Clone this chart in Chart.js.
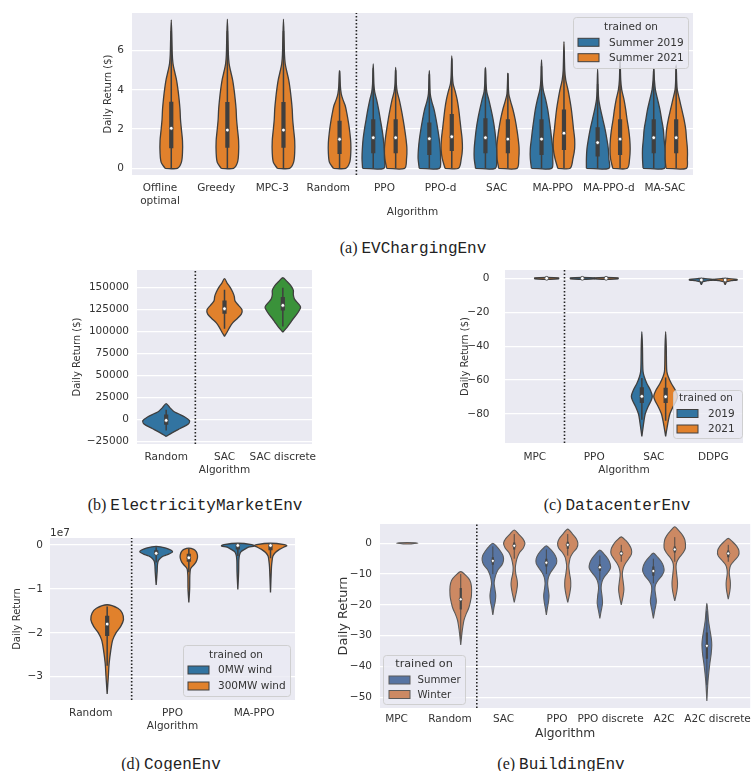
<!DOCTYPE html>
<html><head><meta charset="utf-8">
<script src="https://cdn.jsdelivr.net/npm/chart.js@4.4.1/dist/chart.umd.min.js"></script>
<style>
html,body{margin:0;padding:0;background:#fff;}
body{width:755px;height:771px;position:relative;overflow:hidden;font-family:'DejaVu Sans',sans-serif;}
canvas{position:absolute;}
.cap{position:absolute;transform:translate(-50%,-50%);white-space:nowrap;font-size:16px;color:#222;line-height:18px;}
.cap .s{font-family:'Liberation Serif','DejaVu Serif',serif;}
.cap .m{font-family:'Liberation Mono','DejaVu Sans Mono',monospace;}
</style></head>
<body>
<div class="cap" style="left:413px;top:248px"><span class="s">(a) </span><span class="m">EVChargingEnv</span></div>
<div class="cap" style="left:195px;top:505px"><span class="s">(b) </span><span class="m">ElectricityMarketEnv</span></div>
<div class="cap" style="left:617px;top:505px"><span class="s">(c) </span><span class="m">DatacenterEnv</span></div>
<div class="cap" style="left:171px;top:764px"><span class="s">(d) </span><span class="m">CogenEnv</span></div>
<div class="cap" style="left:561px;top:764px"><span class="s">(e) </span><span class="m">BuildingEnv</span></div>
<script>
// ===================== DATA =====================
// Each violin: shape = [[value, relative half-width], ...] ascending by value,
// box = [whisker low, q1, median, q3, whisker high]

// (a) EVChargingEnv
const evCategories = ['Offline\noptimal','Greedy','MPC-3','Random','PPO','PPO-d','SAC','MA-PPO','MA-PPO-d','MA-SAC'];
const evTicks = [0,2,4,6];
const evSummer2019 = [null,null,null,null,
  {shape:[[0,0.95],[0.5,1.0],[1.0,0.97],[1.5,0.9],[2.0,0.78],[2.5,0.63],[3.0,0.48],[3.5,0.3],[3.9,0.13],[4.3,0.06],[5.32,0]], box:[0,0.77,1.56,2.5,5.1]},
  {shape:[[0,0.9],[0.5,1.0],[1.0,0.97],[1.5,0.88],[2.0,0.75],[2.5,0.6],[3.0,0.42],[3.4,0.22],[3.8,0.08],[4.98,0]], box:[0,0.68,1.51,2.33,4.8]},
  {shape:[[0,0.88],[0.5,1.0],[1.0,1.0],[1.5,0.92],[2.0,0.82],[2.5,0.68],[3.0,0.5],[3.5,0.3],[3.9,0.12],[4.3,0.06],[5.15,0]], box:[0,0.77,1.56,2.55,5.1]},
  {shape:[[0,0.9],[0.5,1.0],[1.0,1.0],[1.5,0.9],[2.0,0.8],[2.5,0.68],[3.0,0.55],[3.5,0.37],[4.0,0.15],[4.5,0.06],[5.53,0]], box:[0,0.68,1.49,2.5,5.2]},
  {shape:[[0,1.0],[0.5,1.0],[1.0,0.95],[1.5,0.82],[2.0,0.66],[2.5,0.46],[3.0,0.26],[3.5,0.1],[4.0,0.05],[5.05,0]], box:[0,0.6,1.31,2.09,4.3]},
  {shape:[[0,0.95],[0.5,1.0],[1.0,1.0],[1.5,0.92],[2.0,0.85],[2.5,0.7],[3.0,0.55],[3.5,0.35],[4.0,0.15],[4.5,0.06],[5.1,0]], box:[0,0.77,1.56,2.5,5.1]}
];
const evSummer2021 = [
  {shape:[[0,0.55],[0.3,0.9],[0.8,1.0],[1.4,1.0],[2.0,0.9],[2.5,0.82],[3.0,0.78],[3.5,0.7],[4.0,0.6],[4.5,0.47],[5.0,0.27],[5.35,0.15],[5.8,0.09],[6.5,0.06],[7.57,0]], box:[0,1.02,2.04,3.4,7.0]},
  {shape:[[0,0.55],[0.3,0.9],[0.8,1.0],[1.4,1.0],[2.0,0.9],[2.5,0.82],[3.0,0.78],[3.5,0.7],[4.0,0.6],[4.5,0.47],[5.0,0.27],[5.35,0.15],[5.8,0.09],[6.5,0.06],[7.6,0]], box:[0,1.05,1.95,3.38,7.0]},
  {shape:[[0,0.55],[0.3,0.9],[0.8,1.0],[1.4,1.0],[2.0,0.9],[2.5,0.82],[3.0,0.78],[3.5,0.7],[4.0,0.6],[4.5,0.47],[5.0,0.27],[5.35,0.15],[5.8,0.09],[6.5,0.06],[7.6,0]], box:[0,1.05,1.95,3.38,7.0]},
  {shape:[[0,0.55],[0.3,0.9],[0.8,1.0],[1.3,1.0],[1.8,0.92],[2.3,0.8],[2.8,0.65],[3.2,0.5],[3.5,0.3],[3.8,0.15],[4.2,0.07],[4.98,0]], box:[0,0.73,1.48,2.43,4.98]},
  {shape:[[0,0.8],[0.5,0.97],[1.0,1.0],[1.5,0.92],[2.0,0.8],[2.5,0.66],[3.0,0.5],[3.5,0.32],[3.9,0.14],[4.3,0.06],[5.15,0]], box:[0,0.77,1.56,2.5,5.0]},
  {shape:[[0,0.6],[0.5,0.85],[1.0,0.95],[1.5,0.92],[2.0,0.82],[2.5,0.72],[3.0,0.62],[3.5,0.48],[4.0,0.27],[4.3,0.12],[4.7,0.06],[5.73,0]], box:[0,0.88,1.61,2.77,5.6]},
  {shape:[[0,0.82],[0.5,0.97],[1.0,1.0],[1.5,0.92],[2.0,0.8],[2.5,0.65],[3.0,0.45],[3.4,0.25],[3.8,0.08],[4.85,0]], box:[0,0.77,1.49,2.5,4.85]},
  {shape:[[0,0.55],[0.5,0.8],[1.0,0.95],[1.5,0.95],[2.0,0.85],[2.5,0.76],[3.0,0.66],[3.5,0.52],[4.0,0.36],[4.5,0.16],[5.0,0.07],[6.46,0]], box:[0,0.93,1.79,3.0,6.0]},
  {shape:[[0,0.65],[0.5,0.85],[1.0,0.9],[1.5,0.86],[2.0,0.76],[2.5,0.62],[3.0,0.5],[3.5,0.35],[4.0,0.15],[4.5,0.06],[5.6,0]], box:[0,0.68,1.49,2.5,5.2]},
  {shape:[[0,0.9],[0.5,1.0],[1.0,1.0],[1.5,0.92],[2.0,0.85],[2.5,0.7],[3.0,0.5],[3.5,0.3],[4.0,0.1],[4.4,0.05],[5.27,0]], box:[0,0.77,1.56,2.5,5.2]}
];

// (b) ElectricityMarketEnv
const emCategories = ['Random','SAC','SAC discrete'];
const emTicks = [-25000,0,25000,50000,75000,100000,125000,150000];
const emReturns = [
  {shape:[[-19000,0],[-15000,0.25],[-10000,0.6],[-5000,0.95],[-1000,1.0],[3000,0.8],[7000,0.5],[10000,0.3],[14000,0.15],[18200,0]], box:[-12200,-5700,-800,6000,11400]},
  {shape:[[94700,0],[100000,0.12],[105000,0.22],[110000,0.35],[115000,0.55],[120000,0.72],[125000,0.75],[130000,0.6],[135000,0.45],[140000,0.42],[145000,0.35],[150000,0.25],[155000,0.12],[160200,0]], box:[103400,120400,126100,135500,147700]},
  {shape:[[99500,0],[105000,0.18],[110000,0.32],[115000,0.45],[120000,0.6],[125000,0.72],[128000,0.76],[132000,0.66],[137000,0.5],[142000,0.45],[147000,0.45],[152000,0.35],[157000,0.18],[161300,0]], box:[106000,124200,129900,139300,150000]}
];

// (c) DatacenterEnv
const dcCategories = ['MPC','PPO','SAC','DDPG'];
const dcTicks = [-80,-60,-40,-20,0];
const dc2019 = [null,
  {shape:[[-0.6,0],[-0.3,1],[0.3,1],[0.6,0]], box:[0,0,0,0,0]},
  {shape:[[-93.2,0],[-88,0.1],[-84,0.18],[-80,0.28],[-76,0.5],[-72,0.78],[-69.5,0.88],[-66,0.72],[-62,0.42],[-58,0.2],[-55,0.1],[-50,0.07],[-40,0.05],[-31.4,0]], box:[-83.4,-73.5,-69.6,-64.3,-58.8]},
  {shape:[[-3.8,0],[-3,0.05],[-2,0.12],[-1.4,0.5],[-1.0,1.0],[-0.6,1.0],[-0.2,0.3],[0,0]], box:[-2,-1.2,-1.0,-0.7,-0.2]}
];
const dc2021 = [
  {shape:[[-0.6,0],[-0.3,1],[0.3,1],[0.6,0]], box:[0,0,0,0,0]},
  {shape:[[-0.6,0],[-0.3,1],[0.3,1],[0.6,0]], box:[0,0,0,0,0]},
  {shape:[[-93.2,0],[-88,0.12],[-84,0.22],[-80,0.35],[-76,0.6],[-72,0.9],[-69.5,1.0],[-66,0.82],[-62,0.48],[-58,0.22],[-55,0.1],[-50,0.07],[-40,0.05],[-31.4,0]], box:[-84,-73.5,-69.8,-64.5,-58.5]},
  {shape:[[-3.8,0],[-3,0.05],[-2,0.12],[-1.4,0.5],[-1.0,1.0],[-0.6,1.0],[-0.2,0.3],[0,0]], box:[-2,-1.2,-1.0,-0.7,-0.2]}
];

// (d) CogenEnv
const cgCategories = ['Random','PPO','MA-PPO'];
const cgTicks = [-3e7,-2e7,-1e7,0];
const cg0MW = [null,
  {shape:[[-0.91e7,0],[-0.6e7,0.06],[-0.45e7,0.08],[-0.36e7,0.13],[-0.3e7,0.25],[-0.25e7,0.45],[-0.2e7,0.8],[-0.16e7,1.0],[-0.12e7,0.92],[-0.07e7,0.6],[-0.03e7,0]], box:[-0.4e7,-0.23e7,-0.19e7,-0.12e7,-0.05e7]},
  {shape:[[-1.01e7,0],[-0.6e7,0.05],[-0.35e7,0.06],[-0.23e7,0.1],[-0.15e7,0.2],[-0.1e7,0.4],[-0.05e7,0.65],[-0.02e7,1.0],[0.01e7,0.85],[0.04e7,0]], box:[-0.25e7,-0.1e7,-0.01e7,0,0.03e7]}
];
const cg300MW = [
  {shape:[[-3.39e7,0],[-3.0e7,0.07],[-2.7e7,0.12],[-2.4e7,0.22],[-2.16e7,0.34],[-2.0e7,0.54],[-1.86e7,0.82],[-1.7e7,1.0],[-1.55e7,0.92],[-1.44e7,0.66],[-1.36e7,0]], box:[-2.75e7,-2.07e7,-1.8e7,-1.61e7,-1.4e7]},
  {shape:[[-1.31e7,0],[-1.0e7,0.05],[-0.7e7,0.06],[-0.55e7,0.1],[-0.48e7,0.23],[-0.42e7,0.38],[-0.35e7,0.48],[-0.28e7,0.53],[-0.22e7,0.52],[-0.15e7,0.45],[-0.1e7,0.3],[-0.07e7,0]], box:[-0.62e7,-0.38e7,-0.29e7,-0.2e7,-0.08e7]},
  {shape:[[-1.08e7,0],[-0.5e7,0.06],[-0.35e7,0.1],[-0.25e7,0.15],[-0.17e7,0.3],[-0.1e7,0.55],[-0.05e7,0.8],[-0.02e7,1.0],[0.01e7,0.85],[0.04e7,0]], box:[-0.3e7,-0.12e7,-0.01e7,0,0.03e7]}
];

// (e) BuildingEnv
const bdCategories = ['MPC','Random','SAC','PPO','PPO discrete','A2C','A2C discrete'];
const bdTicks = [-50,-40,-30,-20,-10,0];
const bdSummer = [null,null,
  {shape:[[-23.3,0],[-21,0.1],[-19,0.22],[-17,0.27],[-15,0.2],[-13,0.12],[-11.5,0.18],[-10,0.3],[-8.5,0.5],[-7,0.85],[-5.5,1.0],[-4,0.95],[-2.5,0.7],[-1,0.35],[0,0]], box:[-10,-7,-5.7,-4.5,-1]},
  {shape:[[-23.3,0],[-21,0.1],[-19,0.2],[-17,0.25],[-15,0.18],[-13,0.12],[-11,0.2],[-9.5,0.4],[-8,0.7],[-6.5,0.95],[-5,0.95],[-3.5,0.75],[-2,0.4],[-0.8,0]], box:[-10,-7.5,-6.3,-5,-2]},
  {shape:[[-24.4,0],[-22,0.12],[-19.5,0.25],[-17,0.2],[-14.5,0.12],[-12.5,0.2],[-11,0.4],[-9.5,0.75],[-8,1.0],[-6.5,0.95],[-5,0.75],[-3.5,0.4],[-2.2,0]], box:[-12,-9,-7.8,-6.8,-4]},
  {shape:[[-24.4,0],[-21.5,0.15],[-19,0.28],[-17,0.22],[-15,0.15],[-13.5,0.2],[-12,0.45],[-10.5,0.8],[-9,1.0],[-7.5,0.95],[-6,0.75],[-4.5,0.4],[-3.2,0]], box:[-13,-10.5,-9,-7.5,-5]},
  {shape:[[-51.2,0],[-48,0.05],[-45,0.1],[-42,0.18],[-39,0.28],[-36,0.4],[-33,0.46],[-31,0.42],[-28,0.28],[-25,0.15],[-22,0.08],[-19.5,0]], box:[-46,-37.5,-33.3,-29,-22]}
];
const bdWinter = [
  {shape:[[-0.25,0],[0,1],[0.25,0]], box:null},
  {shape:[[-33,0],[-31,0.06],[-29,0.12],[-27,0.2],[-25,0.3],[-23,0.5],[-21,0.75],[-19,0.9],[-17,1.0],[-14,1.0],[-12,0.85],[-10.5,0.5],[-9.2,0]], box:[-31,-21.5,-18.2,-14.5,-10]},
  {shape:[[-19.2,0],[-17.5,0.1],[-15.5,0.22],[-13.5,0.3],[-12,0.27],[-10,0.15],[-8,0.1],[-6,0.18],[-4.5,0.3],[-3,0.5],[-1.5,0.85],[0,1.0],[1.5,0.8],[3,0.4],[4.3,0]], box:[-5,-2,-0.8,0.3,3]},
  {shape:[[-19.2,0],[-18,0.08],[-16,0.2],[-14,0.28],[-12,0.27],[-10,0.18],[-7.5,0.1],[-6,0.15],[-4.5,0.25],[-3,0.5],[-1.5,0.85],[0,0.95],[1.5,0.8],[3,0.45],[4.6,0]], box:[-4,-1.8,-0.5,0.5,3]},
  {shape:[[-20,0],[-17.5,0.15],[-15,0.25],[-12.5,0.18],[-10,0.1],[-8,0.2],[-6.5,0.4],[-5,0.7],[-3.5,0.95],[-2,0.95],[-0.5,0.75],[1,0.4],[2.1,0]], box:[-6,-4,-3.3,-2.5,-0.5]},
  {shape:[[-18.7,0],[-15.5,0.2],[-13,0.26],[-10,0.18],[-7.5,0.12],[-6,0.2],[-4.5,0.45],[-3,0.8],[-1.5,1.0],[1,0.95],[2.5,0.75],[4,0.4],[5.4,0]], box:[-6,-3,-2,-1,2]},
  {shape:[[-18.1,0],[-15.5,0.15],[-13.5,0.2],[-12,0.18],[-10,0.1],[-8.5,0.12],[-7,0.25],[-5.5,0.6],[-4,0.95],[-2.5,1.0],[-1,0.8],[0.5,0.4],[1.6,0]], box:[-6,-4.5,-3.3,-2.3,-0.5]}
];

// ===================== RENDERING =====================
Chart.defaults.font.family = "'DejaVu Sans', sans-serif";
Chart.defaults.color = '#333';

const C = {blue:'#3274a1', orange:'#e1812c', green:'#3a923a', dBlue:'#5875a3', dOrange:'#cc8963'};
const minus = v => (v < 0 ? '\u2212' + Math.abs(v) : String(v));

function roundRect(ctx, x, y, w, h, r) {
  ctx.beginPath();
  ctx.moveTo(x + r, y);
  ctx.arcTo(x + w, y, x + w, y + h, r);
  ctx.arcTo(x + w, y + h, x, y + h, r);
  ctx.arcTo(x, y + h, x, y, r);
  ctx.arcTo(x, y, x + w, y, r);
  ctx.closePath();
}

function overlay(P) {
  return {
    id: 'overlay',
    beforeDraw(chart) {
      const ca = chart.chartArea, ctx = chart.ctx;
      ctx.save(); ctx.fillStyle = '#eaeaf2';
      ctx.fillRect(ca.left, ca.top, ca.right - ca.left, ca.bottom - ca.top);
      ctx.restore();
    },
    afterDraw(chart) {
      const ctx = chart.ctx, ox = P.canvas.l, oy = P.canvas.t;
      if (P.offsetText) {
        ctx.save(); ctx.fillStyle = '#333'; ctx.font = P.tickSize + "px 'DejaVu Sans'";
        ctx.textAlign = 'left'; ctx.textBaseline = 'alphabetic';
        ctx.fillText(P.offsetText.text, P.offsetText.x - ox, P.offsetText.y - oy);
        ctx.restore();
      }
      const L = P.legend;
      if (!L) return;
      ctx.save();
      roundRect(ctx, L.x - ox + 0.5, L.y - oy + 0.5, L.w, L.h, 3);
      ctx.fillStyle = 'rgba(234,234,242,0.8)'; ctx.fill();
      ctx.strokeStyle = 'rgba(204,204,204,0.9)'; ctx.lineWidth = 1; ctx.stroke();
      ctx.fillStyle = '#333'; ctx.textAlign = 'center'; ctx.textBaseline = 'middle';
      ctx.font = L.titleSize + "px 'DejaVu Sans'";
      ctx.fillText(L.title, L.titleX - ox, L.titleY - oy);
      ctx.font = L.itemSize + "px 'DejaVu Sans'"; ctx.textAlign = 'left';
      L.items.forEach(it => {
        ctx.fillStyle = it.color;
        ctx.fillRect(L.patchX - ox, it.y - oy - L.patchH / 2, L.patchW, L.patchH);
        ctx.strokeStyle = P.style.edge; ctx.lineWidth = 1;
        ctx.strokeRect(L.patchX - ox, it.y - oy - L.patchH / 2, L.patchW, L.patchH);
        ctx.fillStyle = '#333';
        ctx.fillText(it.label, L.textX - ox, it.y - oy + 0.5);
      });
      ctx.restore();
    }
  };
}

function makePanel(P) {
  const cv = document.createElement('canvas');
  cv.width = P.canvas.w; cv.height = P.canvas.h;
  cv.style.left = P.canvas.l + 'px'; cv.style.top = P.canvas.t + 'px';
  cv.style.width = P.canvas.w + 'px'; cv.style.height = P.canvas.h + 'px';
  document.body.appendChild(cv);
  const S = P.style;
  const datasets = [];
  const whisk = [], boxes = [], meds = [];
  P.series.forEach(s => {
    s.data.forEach((v, i) => {
      if (!v) return;
      const cx = i + s.offset;
      const sh = v.shape;
      const pts = [];
      sh.forEach(([y, w]) => pts.push({x: cx - w * P.half, y}));
      for (let k = sh.length - 1; k >= 0; k--) {
        if (k === sh.length - 1 && sh[k][1] === 0) continue;
        pts.push({x: cx + sh[k][1] * P.half, y: sh[k][0]});
      }
      if (sh[0][1] !== 0) pts.push({x: pts[0].x, y: pts[0].y});
      datasets.push({type: 'line', label: s.label, data: pts,
        backgroundColor: s.colors ? s.colors[i] : s.color,
        borderColor: S.edge, borderWidth: S.edgeW, fill: 'shape',
        pointRadius: 0, pointHitRadius: 0, tension: S.tension, order: 10});
      if (v.box) {
        const [lo, q1, md, q3, hi] = v.box;
        whisk.push({x: cx, y: lo}, {x: cx, y: hi}, {x: cx, y: null});
        boxes.push({x: cx, y: q1}, {x: cx, y: q3}, {x: cx, y: null});
        meds.push({x: cx, y: md});
      }
    });
  });
  datasets.push({type: 'line', data: whisk, borderColor: S.box, borderWidth: S.whiskW,
    pointRadius: 0, spanGaps: false, fill: false, order: 3});
  datasets.push({type: 'line', data: boxes, borderColor: S.box, borderWidth: S.boxW,
    borderCapStyle: 'butt', pointRadius: 0, spanGaps: false, fill: false, order: 2});
  datasets.push({type: 'scatter', data: meds, pointRadius: S.medR, pointBackgroundColor: '#fff',
    pointBorderColor: S.box, pointBorderWidth: S.medBW, order: 1});
  datasets.push({type: 'line', data: [{x: P.sep, y: P.yMin}, {x: P.sep, y: P.yMax}],
    borderColor: '#222', borderWidth: 1.6, borderDash: [1.4, 2.1], pointRadius: 0, fill: false, order: 5});

  const plot = P.plot, cvr = P.canvas;
  const fontT = {size: P.tickSize};
  new Chart(cv, {
    type: 'scatter',
    data: {datasets},
    options: {
      responsive: false, animation: false, devicePixelRatio: 1, events: [],
      layout: {padding: {left: 0, top: plot.t - cvr.t, right: cvr.l + cvr.w - plot.r, bottom: 0}},
      plugins: {legend: {display: false}, tooltip: {enabled: false}},
      scales: {
        x: {type: 'linear', min: P.xMin, max: P.xMax,
          grid: {display: false, drawTicks: false}, border: {display: false},
          ticks: {autoSkip: false, maxRotation: 0, minRotation: 0, padding: P.xPad, font: fontT, color: '#333',
            callback: v => { const c = P.cats[Math.round(v)]; return c && c.indexOf('\n') >= 0 ? c.split('\n') : c; }},
          afterBuildTicks: sc => { sc.ticks = P.cats.map((c, i) => ({value: i})); },
          afterFit: sc => { sc.height = cvr.t + cvr.h - plot.b; sc.paddingLeft = 0; sc.paddingRight = 0; },
          title: {display: true, text: 'Algorithm', font: {size: P.xTitleSize}, color: '#333', padding: 0}
        },
        y: {type: 'linear', min: P.yMin, max: P.yMax,
          grid: {color: '#ffffff', lineWidth: 1.2, drawTicks: false}, border: {display: false},
          ticks: {padding: P.yPad, font: fontT, color: '#333', autoSkip: false, callback: P.yFmt},
          afterBuildTicks: sc => { sc.ticks = P.yTicks.map(v => ({value: v})); },
          afterFit: sc => { sc.width = plot.l - cvr.l; sc.paddingTop = 0; sc.paddingBottom = 0; },
          title: {display: true, text: P.yTitle, font: {size: P.yTitleSize}, color: '#333', padding: 0}
        }
      }
    },
    plugins: [overlay(P)]
  });
}

const darkStyle = {edge: '#3f3f3f', edgeW: 1.3, box: '#3f3f3f', boxW: 4.2, whiskW: 1.5, medR: 1.9, medBW: 0.8, tension: 0.3};
const deepStyle = {edge: '#5a5a5a', edgeW: 1.1, box: '#454545', boxW: 2.2, whiskW: 0.9, medR: 1.6, medBW: 0.8, tension: 0.3};

// (a)
makePanel({
  canvas: {l: 102, t: 0, w: 598, h: 219}, plot: {l: 132, t: 13, r: 693, b: 175},
  cats: evCategories, xMin: -0.5, xMax: 9.5, yMin: -0.342, yMax: 7.92, yTicks: evTicks, yFmt: v => minus(v),
  half: 0.2, sep: 3.5, style: darkStyle, tickSize: 10.5, xTitleSize: 10.5, yTitleSize: 10,
  yTitle: 'Daily Return ($)', yPad: 8, xPad: 7,
  series: [{label: 'Summer 2019', data: evSummer2019, offset: -0.2, color: C.blue},
           {label: 'Summer 2021', data: evSummer2021, offset: 0.2, color: C.orange}],
  legend: {x: 573, y: 17, w: 115, h: 51, title: 'trained on', titleX: 631, titleY: 27, titleSize: 10.5, itemSize: 10.5,
    patchX: 578, patchW: 21, patchH: 8, textX: 609,
    items: [{label: 'Summer 2019', color: C.blue, y: 42.3}, {label: 'Summer 2021', color: C.orange, y: 57.7}]}
});

// (b)
makePanel({
  canvas: {l: 71, t: 262, w: 249, h: 215}, plot: {l: 137, t: 270, r: 312, b: 444},
  cats: emCategories, xMin: -0.5, xMax: 2.5, yMin: -27600, yMax: 170100, yTicks: emTicks, yFmt: v => minus(v),
  half: 0.4, sep: 0.5, style: darkStyle, tickSize: 10.5, xTitleSize: 10.5, yTitleSize: 10,
  yTitle: 'Daily Return ($)', yPad: 8, xPad: 6.7,
  series: [{label: 'return', data: emReturns, offset: 0, colors: [C.blue, C.orange, C.green]}]
});

// (c)
makePanel({
  canvas: {l: 459, t: 262, w: 296, h: 215}, plot: {l: 505, t: 270, r: 743, b: 443},
  cats: dcCategories, xMin: -0.5, xMax: 3.5, yMin: -97.1, yMax: 4.9, yTicks: dcTicks, yFmt: v => minus(v),
  half: 0.2, sep: 0.5, style: darkStyle, tickSize: 10.5, xTitleSize: 10.5, yTitleSize: 10,
  yTitle: 'Daily Return ($)', yPad: 15.5, xPad: 7.5,
  series: [{label: '2019', data: dc2019, offset: -0.2, color: C.blue},
           {label: '2021', data: dc2021, offset: 0.2, color: C.orange}],
  legend: {x: 673, y: 390, w: 69, h: 48, title: 'trained on', titleX: 706, titleY: 398.5, titleSize: 10.5, itemSize: 10.5,
    patchX: 677, patchW: 21, patchH: 8, textX: 708,
    items: [{label: '2019', color: C.blue, y: 413.5}, {label: '2021', color: C.orange, y: 429}]}
});

// (d)
makePanel({
  canvas: {l: 11, t: 520, w: 294, h: 213}, plot: {l: 50, t: 538, r: 295, b: 700},
  cats: cgCategories, xMin: -0.5, xMax: 2.5, yMin: -3.53e7, yMax: 0.16e7, yTicks: cgTicks,
  yFmt: v => minus(Math.round(v / 1e7)),
  half: 0.2, sep: 0.5, style: darkStyle, tickSize: 10.5, xTitleSize: 10.5, yTitleSize: 10,
  yTitle: 'Daily Return', yPad: 7, xPad: 6.7,
  offsetText: {text: '1e7', x: 50, y: 535.5},
  series: [{label: '0MW wind', data: cg0MW, offset: -0.2, color: C.blue},
           {label: '300MW wind', data: cg300MW, offset: 0.2, color: C.orange}],
  legend: {x: 183, y: 645, w: 107, h: 51, title: 'trained on', titleX: 236, titleY: 655, titleSize: 10.5, itemSize: 10.5,
    patchX: 188, patchW: 21, patchH: 8, textX: 218,
    items: [{label: '0MW wind', color: C.blue, y: 670}, {label: '300MW wind', color: C.orange, y: 686}]}
});

// (e)
makePanel({
  canvas: {l: 336, t: 515, w: 419, h: 226}, plot: {l: 380, t: 524, r: 754, b: 708},
  cats: bdCategories, xMin: -0.309, xMax: 6.61, yMin: -53.5, yMax: 6.27, yTicks: bdTicks, yFmt: v => minus(v),
  half: 0.2, sep: 1.5, style: deepStyle, tickSize: 10.5, xTitleSize: 12.3, yTitleSize: 12.8,
  yTitle: 'Daily Return', yPad: 8, xPad: 5.2,
  series: [{label: 'Summer', data: bdSummer, offset: -0.2, color: C.dBlue},
           {label: 'Winter', data: bdWinter, offset: 0.2, color: C.dOrange}],
  legend: {x: 383, y: 655, w: 82, h: 49, title: 'trained on', titleX: 424, titleY: 664.5, titleSize: 11.2, itemSize: 10.2,
    patchX: 389, patchW: 21, patchH: 8, textX: 417.5,
    items: [{label: 'Summer', color: C.dBlue, y: 680}, {label: 'Winter', color: C.dOrange, y: 694.5}]}
});
</script>
</body></html>
